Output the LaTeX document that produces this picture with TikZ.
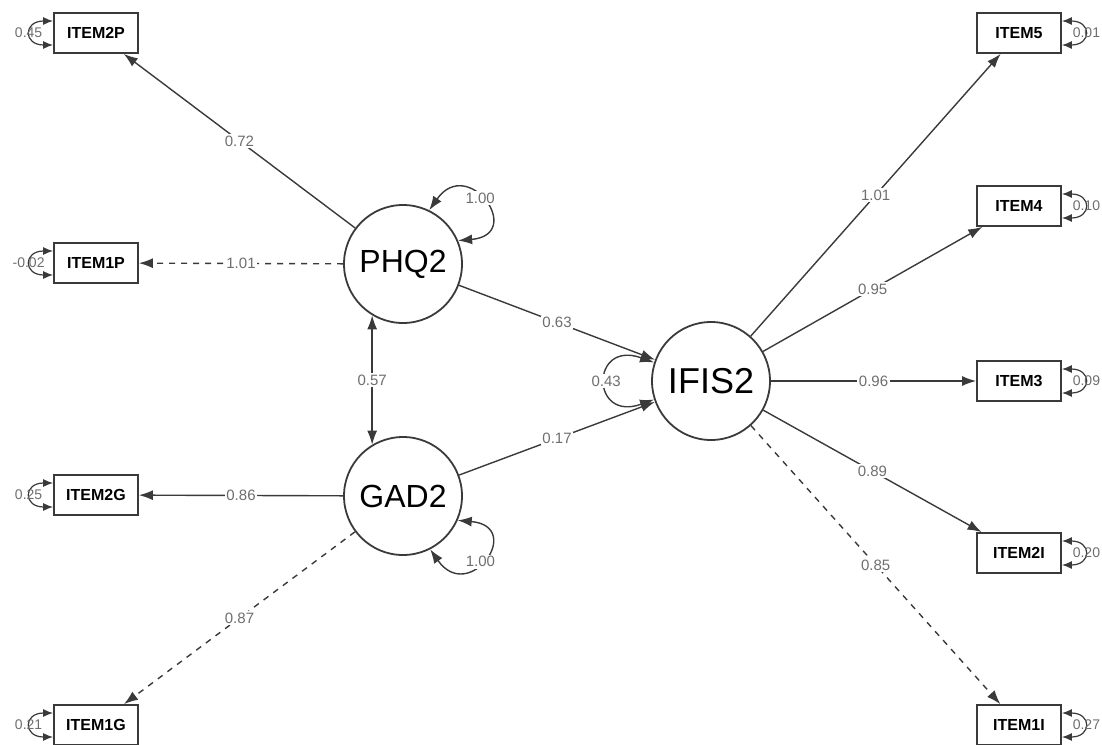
\documentclass[tikz,border=0pt]{standalone}
\usepackage{fontspec}
\setmainfont{Liberation Sans}
\usetikzlibrary{arrows.meta, positioning, calc}
\definecolor{pathgray}{HTML}{3A3A3A}
\definecolor{lblgray}{HTML}{6E6E6E}

\begin{document}
\begin{tikzpicture}[
    x=0.5pt, y=-0.5pt,
    latent/.style={circle, draw=pathgray, line width=0.9pt, minimum size=59pt,
                   inner sep=0pt, font=\fontsize{16}{18}\selectfont},
    manifest/.style={rectangle, draw=pathgray, line width=0.9pt, minimum width=42pt,
                     minimum height=20pt, inner sep=0pt, font=\fontsize{8}{9}\selectfont\bfseries},
    load/.style={-{Latex[length=7pt, width=5pt]}, pathgray, line width=0.7pt},
    fixed/.style={load, dashed},
    dbl/.style={{Latex[length=7pt, width=5pt]}-{Latex[length=7pt, width=5pt]},
                pathgray, line width=0.7pt},
    resid/.style={{Latex[length=5pt, width=4pt]}-{Latex[length=5pt, width=4pt]},
                  pathgray, line width=0.6pt},
    lbl/.style={font=\fontsize{7.5}{8}\selectfont, text=lblgray, fill=white, inner sep=0.8pt},
    rlbl/.style={font=\fontsize{7}{8}\selectfont, text=lblgray, inner sep=0pt}
]
    \useasboundingbox (0,0) rectangle (1102,744);

    % latent variables
    \node[latent] (phq)  at (403,264) {PHQ2};
    \node[latent] (gad)  at (403,496) {GAD2};
    \node[latent, font=\fontsize{18}{20}\selectfont] (ifis) at (711,381) {IFIS2};

    % indicators
    \node[manifest] (i2p) at (96,33)  {ITEM2P};
    \node[manifest] (i1p) at (96,263) {ITEM1P};
    \node[manifest] (i2g) at (96,495) {ITEM2G};
    \node[manifest] (i1g) at (96,725) {ITEM1G};
    \node[manifest] (i5)  at (1019,33)  {ITEM5};
    \node[manifest] (i4)  at (1019,206) {ITEM4};
    \node[manifest] (i3)  at (1019,381) {ITEM3};
    \node[manifest] (i2i) at (1019,553) {ITEM2I};
    \node[manifest] (i1i) at (1019,725) {ITEM1I};

    % loadings
    \draw[load]  (phq) -- node[lbl] {0.72} (i2p);
    \draw[fixed] (phq) -- node[lbl] {1.01} (i1p);
    \draw[load]  (gad) -- node[lbl] {0.86} (i2g);
    \draw[fixed] (gad) -- node[lbl] {0.87} (i1g);
    \draw[load]  (ifis) -- node[lbl] {1.01} (i5);
    \draw[load]  (ifis) -- node[lbl] {0.95} (i4);
    \draw[load]  (ifis) -- node[lbl] {0.96} (i3);
    \draw[load]  (ifis) -- node[lbl] {0.89} (i2i);
    \draw[fixed] (ifis) -- node[lbl] {0.85} (i1i);

    % structural paths
    \draw[load] (phq) -- node[lbl] {0.63} (ifis);
    \draw[load] (gad) -- node[lbl] {0.17} (ifis);
    \draw[dbl]  (phq.-121) -- node[lbl] {0.57} (gad.121);

    % variances
    \draw[dbl] (phq.64) .. controls +(55:34pt) and +(5:34pt) .. node[lbl, pos=0.45] {1.00} (phq.23);
    \draw[dbl] (gad.-63) .. controls +(-55:34pt) and +(-5:34pt) .. node[lbl, pos=0.45] {1.00} (gad.-24);
    \draw[dbl] (ifis.162) .. controls +(160:34pt) and +(200:34pt) .. node[lbl] {0.43} (ifis.198);

    % residuals
    \foreach \n/\v in {i2p/0.45, i1p/-0.02, i2g/0.25, i1g/0.21} {
        \draw[resid] ([yshift=6pt]\n.west) to[out=180, in=180, distance=15pt]
            node[rlbl, xshift=-1pt] {\v} ([yshift=-6pt]\n.west);
    }
    \foreach \n/\v in {i5/0.01, i4/0.10, i3/0.09, i2i/0.20, i1i/0.27} {
        \draw[resid] ([yshift=6pt]\n.east) to[out=0, in=0, distance=15pt]
            node[rlbl, xshift=1pt] {\v} ([yshift=-6pt]\n.east);
    }
\end{tikzpicture}
\end{document}
